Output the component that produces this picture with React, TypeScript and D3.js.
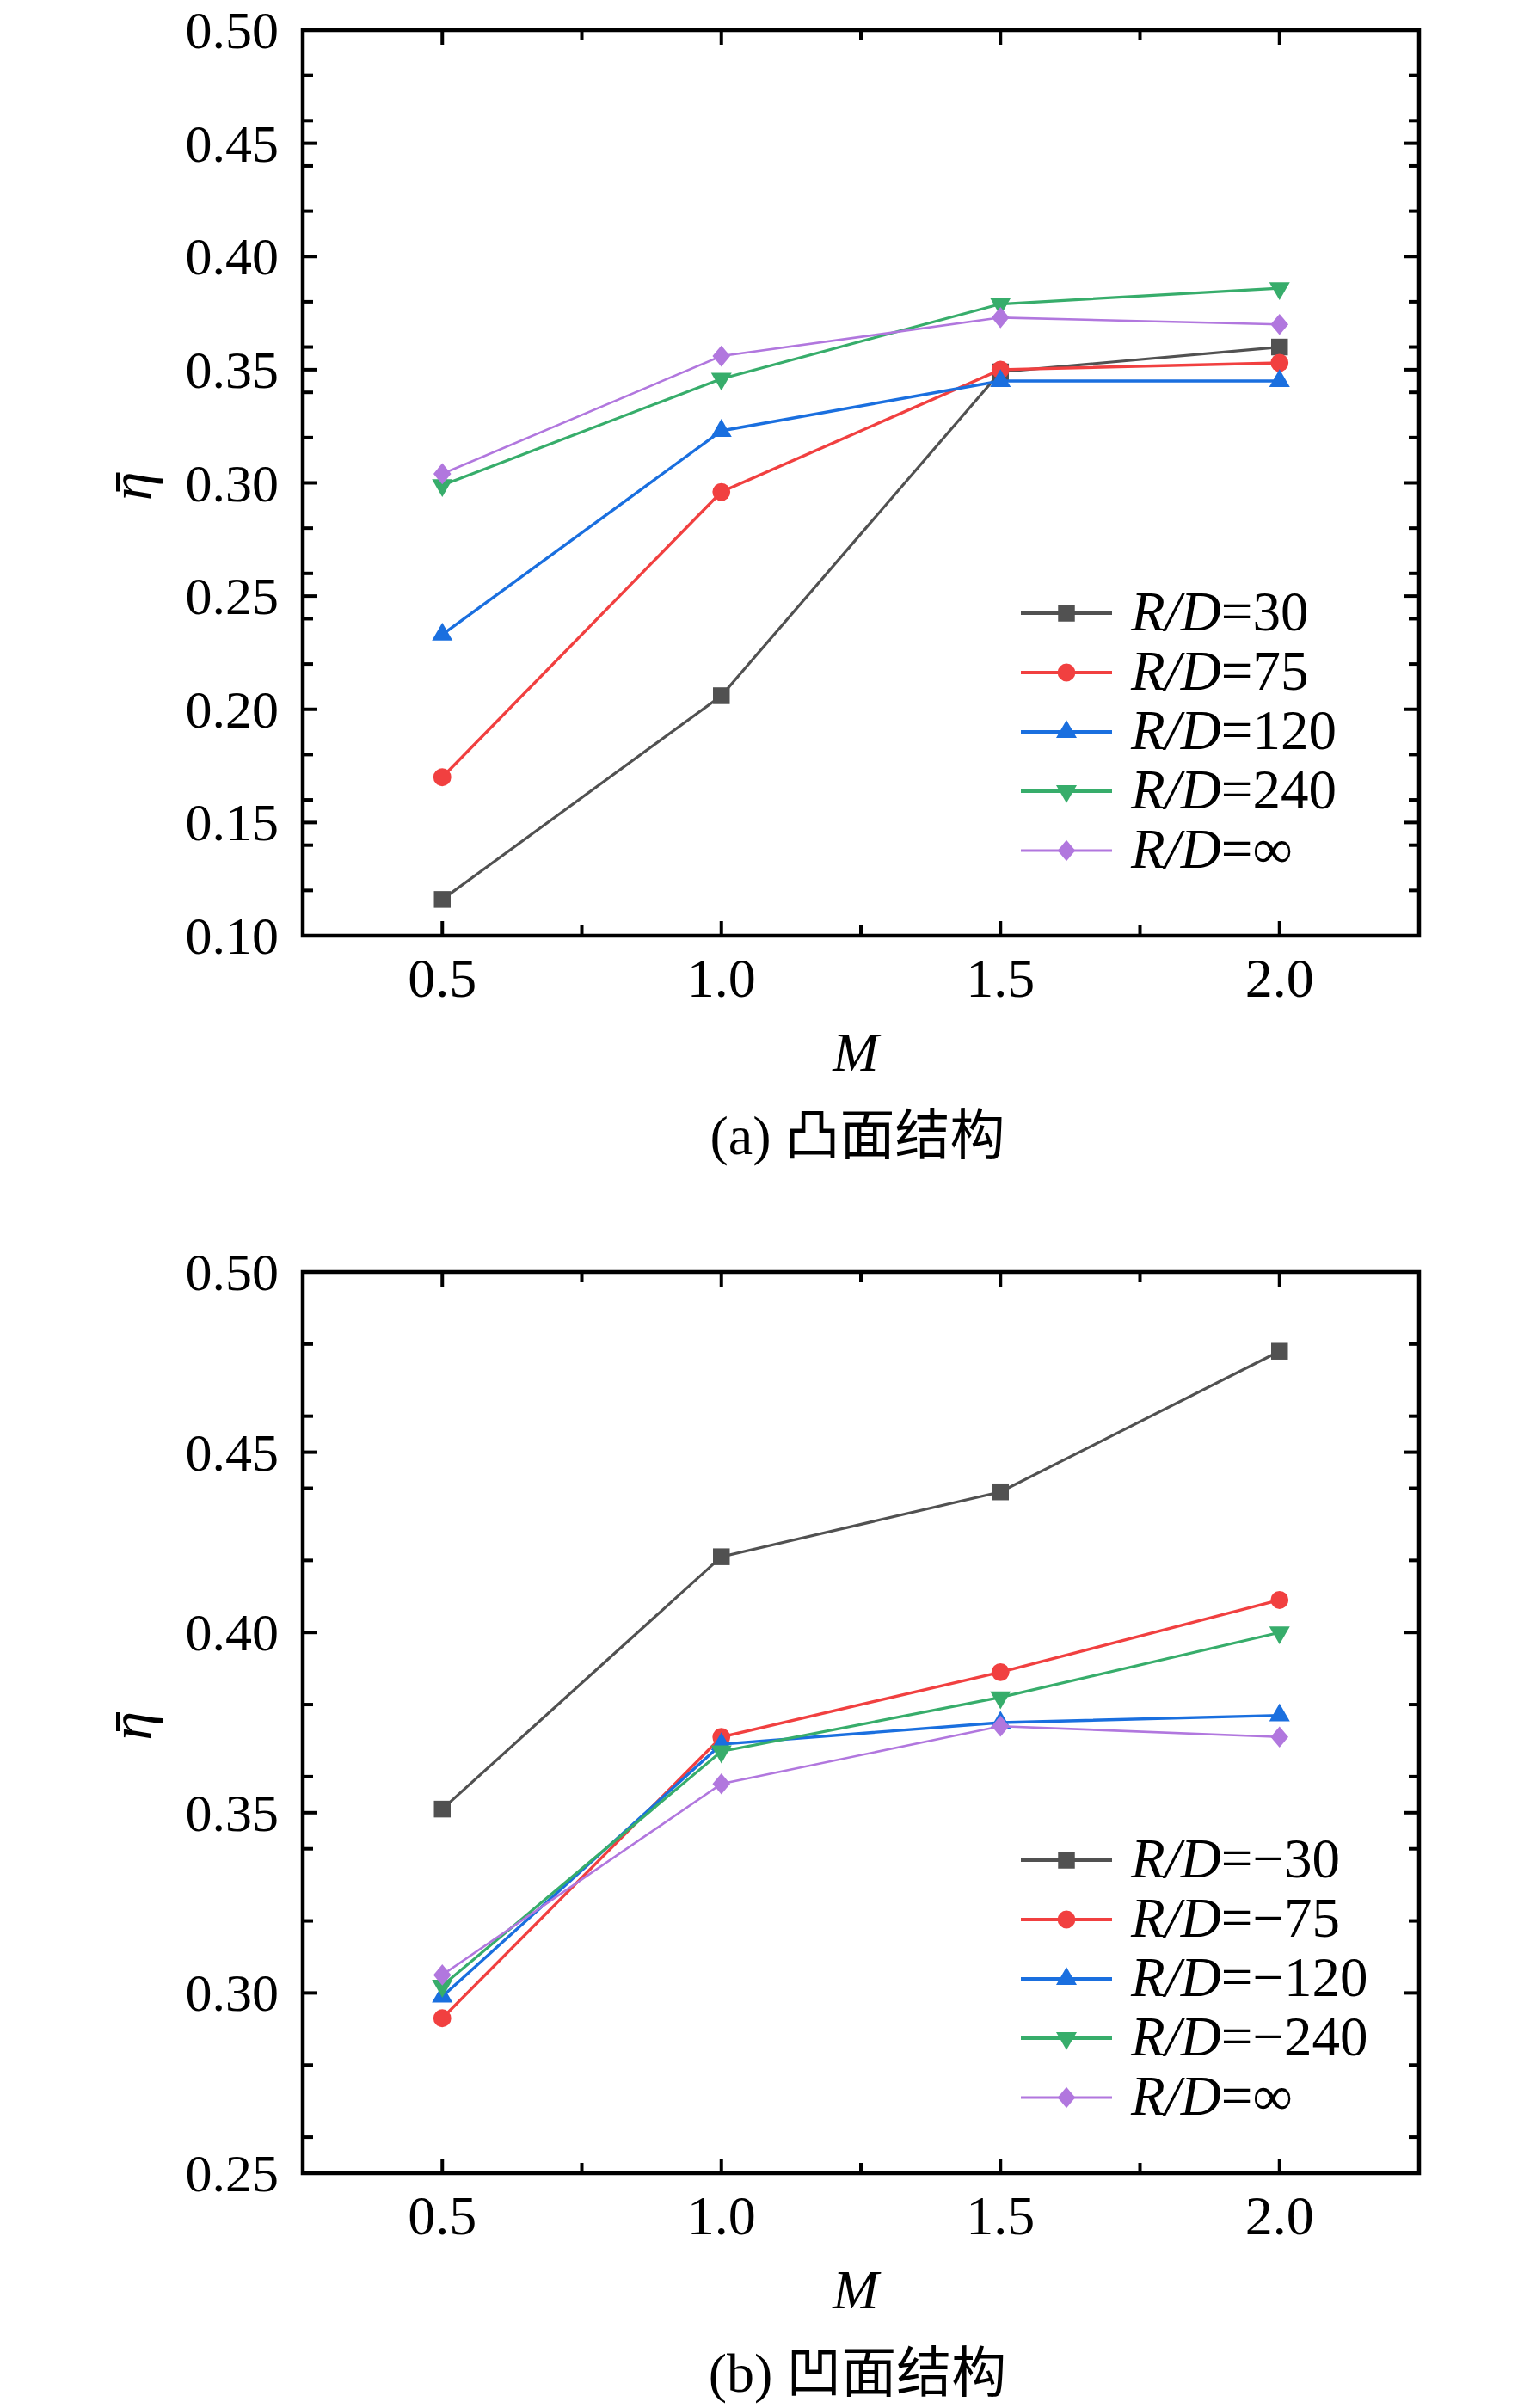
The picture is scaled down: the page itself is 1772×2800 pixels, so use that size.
import React from "react";
import * as d3 from "d3";

// ---- data ----
const mValues = [0.5, 1.0, 1.5, 2.0];
const xMajorTicks = [0.5, 1.0, 1.5, 2.0];
const xMinorTicks = [0.75, 1.25, 1.75];

const convexSuffixes = ["=30", "=75", "=120", "=240", "=\u221E"];
const convex30 = [0.116, 0.206, 0.349, 0.360];
const convex75 = [0.170, 0.296, 0.350, 0.353];
const convex120 = [0.233, 0.323, 0.345, 0.345];
const convex240 = [0.299, 0.346, 0.379, 0.386];
const convexInf = [0.304, 0.356, 0.373, 0.370];

const concaveSuffixes = ["=\u221230", "=\u221275", "=\u2212120", "=\u2212240", "=\u221E"];
const concave30 = [0.351, 0.421, 0.439, 0.478];
const concave75 = [0.293, 0.371, 0.389, 0.409];
const concave120 = [0.299, 0.369, 0.375, 0.377];
const concave240 = [0.302, 0.367, 0.382, 0.400];
const concaveInf = [0.305, 0.358, 0.374, 0.371];

const convexYDomain = [0.1, 0.5];
const concaveYDomain = [0.25, 0.5];
const captionA = "(a) 凸面结构";
const captionB = "(b) 凹面结构";
const yLabel = "\u03B7";

// ---- styles ----
const COLORS = ["#515151", "#F14040", "#1A6FDF", "#37AD6B", "#B177DE"];
const WIDTHS = [3.2, 3.4, 3.4, 3.2, 2.6];
const SHAPES = ["square", "circle", "triangle", "triangleDown", "diamond"];
const FONT = "'Liberation Serif', 'Times New Roman', 'Noto Sans CJK SC', serif";

const diamondType = {
  draw(context: any, size: number) {
    const w = Math.sqrt(size) * 0.55;
    const h = Math.sqrt(size) * 0.66;
    context.moveTo(0, -h);
    context.lineTo(w, 0);
    context.lineTo(0, h);
    context.lineTo(-w, 0);
    context.closePath();
  },
};

function markerPath(shape: string) {
  switch (shape) {
    case "square":
      return d3.symbol(d3.symbolSquare, 380)()!;
    case "circle":
      return d3.symbol(d3.symbolCircle, 340)()!;
    case "triangle":
      return d3.symbol(d3.symbolTriangle, 250)()!;
    case "triangleDown":
      return d3.symbol(d3.symbolTriangle, 250)()!;
    default:
      return d3.symbol(diamondType as any, 350)()!;
  }
}

type PanelProps = {
  top: number;
  bottom: number;
  yDomain: number[];
  series: number[][];
  suffixes: string[];
  legendY: number;
  caption: string;
};

const LEFT = 352;
const RIGHT = 1650;

function Panel({ top, bottom, yDomain, series, suffixes, legendY, caption }: PanelProps) {
  const x = d3.scaleLinear().domain([0.25, 2.25]).range([LEFT, RIGHT]);
  const y = d3.scaleLinear().domain(yDomain).range([bottom, top]);
  const yMajor = y.ticks(Math.round((yDomain[1] - yDomain[0]) / 0.05));
  const yMinor = y
    .ticks(Math.round((yDomain[1] - yDomain[0]) / 0.025))
    .filter((t) => !yMajor.some((m) => Math.abs(m - t) < 1e-9));
  const line = d3
    .line<number>()
    .x((_, i) => x(mValues[i]))
    .y((d) => y(d));
  const majorLen = 17;
  const minorLen = 12;
  const tickW = 4;
  const fs = 62;
  const cx = (LEFT + RIGHT) / 2;
  const legendStep = 69;

  return (
    <g>
      {/* data */}
      {series.map((s, si) => (
        <g key={si}>
          <path d={line(s)!} fill="none" stroke={COLORS[si]} strokeWidth={WIDTHS[si]} />
          {s.map((v, i) => (
            <path
              key={i}
              d={markerPath(SHAPES[si])}
              transform={`translate(${x(mValues[i])},${y(v)})${SHAPES[si] === "triangleDown" ? " rotate(180)" : ""}`}
              fill={COLORS[si]}
            />
          ))}
        </g>
      ))}

      {/* frame */}
      <rect
        x={LEFT}
        y={top}
        width={RIGHT - LEFT}
        height={bottom - top}
        fill="none"
        stroke="#000"
        strokeWidth={4.5}
      />

      {/* x ticks */}
      {xMajorTicks.map((t) => (
        <g key={"xM" + t}>
          <line x1={x(t)} x2={x(t)} y1={bottom} y2={bottom - majorLen} stroke="#000" strokeWidth={tickW} />
          <line x1={x(t)} x2={x(t)} y1={top} y2={top + majorLen} stroke="#000" strokeWidth={tickW} />
          <text
            x={x(t)}
            y={bottom + 71}
            textAnchor="middle"
            fontFamily={FONT}
            fontSize={fs + 2}
            fill="#000"
          >
            {d3.format(".1f")(t)}
          </text>
        </g>
      ))}
      {xMinorTicks.map((t) => (
        <g key={"xm" + t}>
          <line x1={x(t)} x2={x(t)} y1={bottom} y2={bottom - minorLen} stroke="#000" strokeWidth={tickW} />
          <line x1={x(t)} x2={x(t)} y1={top} y2={top + minorLen} stroke="#000" strokeWidth={tickW} />
        </g>
      ))}

      {/* y ticks */}
      {yMajor.map((t) => (
        <g key={"yM" + t}>
          <line x1={LEFT} x2={LEFT + majorLen} y1={y(t)} y2={y(t)} stroke="#000" strokeWidth={tickW} />
          <line x1={RIGHT} x2={RIGHT - majorLen} y1={y(t)} y2={y(t)} stroke="#000" strokeWidth={tickW} />
          <text
            x={LEFT - 28}
            y={y(t) + 21}
            textAnchor="end"
            fontFamily={FONT}
            fontSize={fs}
            fill="#000"
          >
            {d3.format(".2f")(t)}
          </text>
        </g>
      ))}
      {yMinor.map((t) => (
        <g key={"ym" + t}>
          <line x1={LEFT} x2={LEFT + minorLen} y1={y(t)} y2={y(t)} stroke="#000" strokeWidth={tickW} />
          <line x1={RIGHT} x2={RIGHT - minorLen} y1={y(t)} y2={y(t)} stroke="#000" strokeWidth={tickW} />
        </g>
      ))}

      {/* y label: eta with overbar, rotated */}
      <g transform={`translate(176, ${(top + bottom) / 2 + 4}) rotate(-90)`}>
        <text
          x={0}
          y={0}
          textAnchor="middle"
          fontFamily={FONT}
          fontSize={fs + 6}
          fontStyle="italic"
          fill="#000"
        >
          {yLabel}
        </text>
        <line x1={-6} x2={16} y1={-39} y2={-39} stroke="#000" strokeWidth={4} />
      </g>

      {/* x label */}
      <text
        x={cx - 6}
        y={bottom + 157}
        textAnchor="middle"
        fontFamily={FONT}
        fontSize={fs + 2}
        fontStyle="italic"
        fill="#000"
      >
        M
      </text>

      {/* caption */}
      <text x={cx - 4} y={bottom + 254} textAnchor="middle" fontFamily={FONT} fontSize={fs + 2} fill="#000">
        {caption}
      </text>

      {/* legend */}
      {suffixes.map((sfx, si) => {
        const ly = legendY + si * legendStep;
        return (
          <g key={"lg" + si}>
            <line x1={1187} x2={1293} y1={ly} y2={ly} stroke={COLORS[si]} strokeWidth={WIDTHS[si] + 0.6} />
            <path
              d={markerPath(SHAPES[si])}
              transform={`translate(1240,${ly})${SHAPES[si] === "triangleDown" ? " rotate(180)" : ""}`}
              fill={COLORS[si]}
            />
            <text x={1315} y={ly + 20} fontFamily={FONT} fontSize={fs + 3} fill="#000">
              <tspan fontStyle="italic">R/D</tspan>
              <tspan>{sfx}</tspan>
            </text>
          </g>
        );
      })}
    </g>
  );
}

export default function App() {
  return (
    <div style={{ position: "absolute", left: 0, top: 0, background: "#fff" }}>
      <svg width={1772} height={2800} viewBox="0 0 1772 2800" style={{ display: "block", background: "#fff" }}>
        <rect width={1772} height={2800} fill="#fff" />
        <Panel
          top={35}
          bottom={1088}
          yDomain={convexYDomain}
          series={[convex30, convex75, convex120, convex240, convexInf]}
          suffixes={convexSuffixes}
          legendY={713}
          caption={captionA}
        />
        <Panel
          top={1479}
          bottom={2527}
          yDomain={concaveYDomain}
          series={[concave30, concave75, concave120, concave240, concaveInf]}
          suffixes={concaveSuffixes}
          legendY={2163}
          caption={captionB}
        />
      </svg>
    </div>
  );
}
